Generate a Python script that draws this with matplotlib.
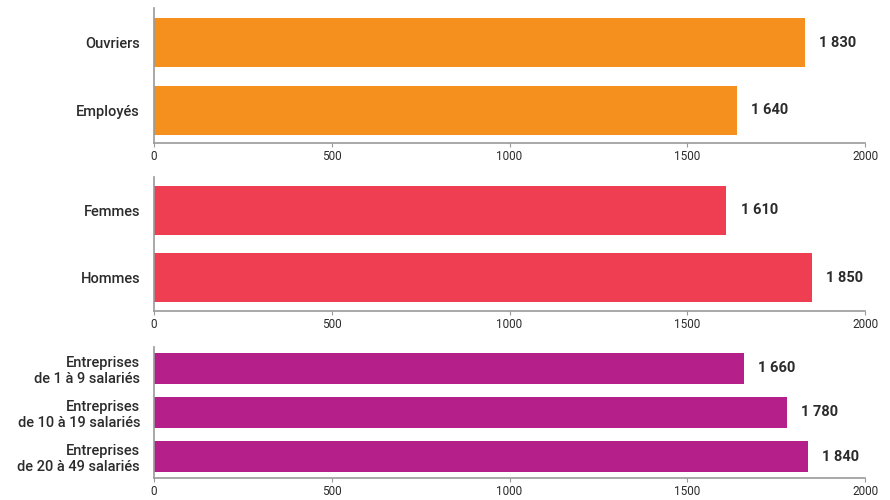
import matplotlib
matplotlib.use("Agg")
import matplotlib.pyplot as plt

plt.rcParams['font.family'] = ['Roboto', 'DejaVu Sans']

# data
cat_csp = ["Ouvriers", "Employés"]
val_csp = [1830, 1640]

cat_sexe = ["Femmes", "Hommes"]
val_sexe = [1610, 1850]

cat_taille = ["Entreprises\nde 1 à 9 salariés",
              "Entreprises\nde 10 à 19 salariés",
              "Entreprises\nde 20 à 49 salariés"]
val_taille = [1660, 1780, 1840]

xticks = [0, 500, 1000, 1500, 2000]

panels = [
    (cat_csp, val_csp, "#F5901E", [0.173, 0.714, 0.799, 0.270], (1.48, -0.51), 0.72),
    (cat_sexe, val_sexe, "#EF3E52", [0.173, 0.378, 0.799, 0.268], (1.5, -0.5), 0.73),
    (cat_taille, val_taille, "#B51F8A", [0.173, 0.044, 0.799, 0.262], (2.48, -0.48), 0.70),
]

fig = plt.figure(figsize=(8.9, 5), dpi=100)

def fmt(v):
    return f"{v:,}".replace(",", " ")

for cats, vals, color, pos, ylim, h in panels:
    ax = fig.add_axes(pos)
    y = list(range(len(cats)))
    ax.barh(y, vals, height=h, color=color)
    for yi, v in zip(y, vals):
        ax.text(v + 40, yi, fmt(v), va='center', ha='left',
                fontsize=10.5, fontweight='bold', color='#2b2b2b')
    ax.set_xlim(0, 2000)
    ax.set_ylim(*ylim)
    ax.set_yticks(y)
    ax.set_yticklabels(cats, fontsize=10.5, color='#2b2b2b', fontweight='medium')
    ax.set_xticks(xticks)
    ax.set_xticklabels([str(t) for t in xticks], fontsize=8.5, color='#2b2b2b')
    ax.tick_params(axis='y', length=0, pad=10)
    ax.tick_params(axis='x', length=3, color='#999999', pad=2)
    for s in ['top', 'right']:
        ax.spines[s].set_visible(False)
    for s in ['left', 'bottom']:
        ax.spines[s].set_color('#999999')
        ax.spines[s].set_linewidth(1.2)

fig.savefig("out.png", dpi=100)
